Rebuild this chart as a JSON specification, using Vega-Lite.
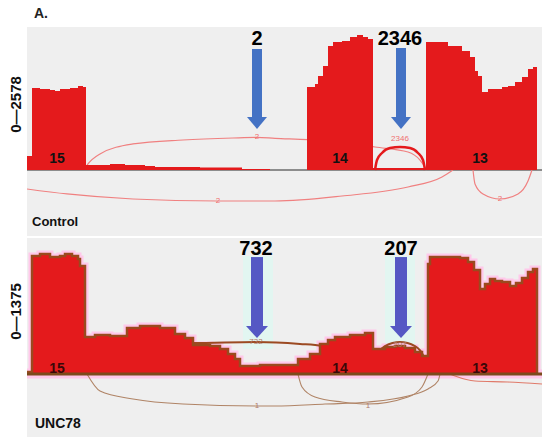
{
  "$schema": "https://vega.github.io/schema/vega-lite/v6.json",
  "autosize": {"type": "pad"},
  "padding": {"left": 8, "top": 7, "right": 0, "bottom": 0},
  "background": "white",
  "title": {"text": "A.", "anchor": "start", "frame": "group", "dx": 7, "offset": 6, "fontSize": 14, "fontWeight": "bold", "font": "Liberation Sans", "color": "#222"},
  "config": {"view": {"fill": "#efefef", "stroke": null}, "concat": {"spacing": 2}},
  "datasets": {
    "covTop": [{"pos":0,"v":267},{"pos":5,"v":1566},{"pos":13,"v":1547},{"pos":23,"v":1528},{"pos":28,"v":1509},{"pos":33,"v":1547},{"pos":43,"v":1566},{"pos":51,"v":1604},{"pos":56,"v":1585},{"pos":59,"v":96},{"pos":83,"v":115},{"pos":98,"v":96},{"pos":118,"v":76},{"pos":128,"v":57},{"pos":173,"v":48},{"pos":215,"v":19},{"pos":243,"v":0},{"pos":280,"v":1585},{"pos":288,"v":1643},{"pos":291,"v":1795},{"pos":296,"v":1986},{"pos":301,"v":2368},{"pos":306,"v":2445},{"pos":315,"v":2464},{"pos":323,"v":2540},{"pos":330,"v":2578},{"pos":336,"v":2540},{"pos":341,"v":2502},{"pos":346,"v":40},{"pos":399,"v":2445},{"pos":421,"v":2368},{"pos":435,"v":2273},{"pos":443,"v":2158},{"pos":448,"v":1891},{"pos":451,"v":1795},{"pos":455,"v":1490},{"pos":461,"v":1547},{"pos":475,"v":1585},{"pos":481,"v":1604},{"pos":488,"v":1681},{"pos":495,"v":1776},{"pos":501,"v":1929},{"pos":506,"v":1967},{"pos":510,"v":0}],
    "covBot": [{"pos":0,"v":23},{"pos":5,"v":1375},{"pos":13,"v":1398},{"pos":23,"v":1363},{"pos":33,"v":1375},{"pos":38,"v":1398},{"pos":45,"v":1375},{"pos":51,"v":1340},{"pos":53,"v":1258},{"pos":58,"v":431},{"pos":68,"v":454},{"pos":83,"v":443},{"pos":100,"v":536},{"pos":113,"v":559},{"pos":133,"v":536},{"pos":148,"v":466},{"pos":158,"v":419},{"pos":166,"v":338},{"pos":183,"v":326},{"pos":193,"v":291},{"pos":201,"v":233},{"pos":208,"v":175},{"pos":213,"v":93},{"pos":233,"v":105},{"pos":263,"v":105},{"pos":271,"v":175},{"pos":283,"v":233},{"pos":293,"v":349},{"pos":301,"v":396},{"pos":308,"v":431},{"pos":323,"v":454},{"pos":338,"v":478},{"pos":346,"v":291},{"pos":358,"v":315},{"pos":368,"v":326},{"pos":378,"v":303},{"pos":388,"v":256},{"pos":395,"v":210},{"pos":401,"v":1282},{"pos":403,"v":1363},{"pos":418,"v":1363},{"pos":433,"v":1351},{"pos":441,"v":1305},{"pos":447,"v":1212},{"pos":453,"v":990},{"pos":458,"v":1049},{"pos":463,"v":1107},{"pos":468,"v":1084},{"pos":475,"v":1072},{"pos":483,"v":1025},{"pos":489,"v":1060},{"pos":495,"v":1118},{"pos":501,"v":1188},{"pos":506,"v":1223},{"pos":510,"v":0}],
    "arcTop": [
      {"arc":"j2","pos":59,"v":60},{"arc":"j2","pos":61,"v":115},{"arc":"j2","pos":73,"v":306},{"arc":"j2","pos":106,"v":497},{"arc":"j2","pos":156,"v":573},{"arc":"j2","pos":206,"v":611},{"arc":"j2","pos":230,"v":622},{"arc":"j2","pos":248,"v":605},{"arc":"j2","pos":281,"v":580},{"arc":"j2","pos":315,"v":535},{"arc":"j2","pos":348,"v":439},{"arc":"j2","pos":381,"v":344},{"arc":"j2","pos":393,"v":190},{"arc":"j2","pos":398,"v":57},{"arc":"j2","pos":400,"v":0},
      {"arc":"j2346","pos":348,"v":0},{"arc":"j2346","pos":350,"v":191},{"arc":"j2346","pos":355,"v":325},{"arc":"j2346","pos":363,"v":420},{"arc":"j2346","pos":373,"v":439},{"arc":"j2346","pos":383,"v":420},{"arc":"j2346","pos":391,"v":325},{"arc":"j2346","pos":396,"v":191},{"arc":"j2346","pos":398,"v":0},
      {"arc":"b1","pos":0,"v":-363},{"arc":"b1","pos":40,"v":-458},{"arc":"b1","pos":106,"v":-554},{"arc":"b1","pos":191,"v":-592},{"arc":"b1","pos":248,"v":-592},{"arc":"b1","pos":315,"v":-497},{"arc":"b1","pos":381,"v":-325},{"arc":"b1","pos":415,"v":-134},{"arc":"b1","pos":426,"v":0},
      {"arc":"b2","pos":446,"v":0},{"arc":"b2","pos":448,"v":-267},{"arc":"b2","pos":456,"v":-458},{"arc":"b2","pos":473,"v":-554},{"arc":"b2","pos":491,"v":-458},{"arc":"b2","pos":501,"v":-210},{"arc":"b2","pos":505,"v":0}
    ],
    "arcBot": [
      {"arc":"j732","pos":58,"v":0},{"arc":"j732","pos":63,"v":200},{"arc":"j732","pos":73,"v":291},{"arc":"j732","pos":123,"v":361},{"arc":"j732","pos":166,"v":361},{"arc":"j732","pos":229,"v":373},{"arc":"j732","pos":273,"v":350},{"arc":"j732","pos":295,"v":326},{"arc":"j732","pos":308,"v":233},{"arc":"j732","pos":313,"v":0},
      {"arc":"j207","pos":346,"v":0},{"arc":"j207","pos":349,"v":198},{"arc":"j207","pos":358,"v":326},{"arc":"j207","pos":373,"v":373},{"arc":"j207","pos":388,"v":326},{"arc":"j207","pos":397,"v":198},{"arc":"j207","pos":401,"v":0},
      {"arc":"b1","pos":60,"v":0},{"arc":"b1","pos":73,"v":-198},{"arc":"b1","pos":106,"v":-291},{"arc":"b1","pos":156,"v":-350},{"arc":"b1","pos":230,"v":-373},{"arc":"b1","pos":248,"v":-373},{"arc":"b1","pos":298,"v":-350},{"arc":"b1","pos":341,"v":-326},{"arc":"b1","pos":381,"v":-256},{"arc":"b1","pos":401,"v":-175},{"arc":"b1","pos":411,"v":-82},{"arc":"b1","pos":413,"v":0},
      {"arc":"b2","pos":271,"v":0},{"arc":"b2","pos":275,"v":-151},{"arc":"b2","pos":288,"v":-268},{"arc":"b2","pos":315,"v":-326},{"arc":"b2","pos":341,"v":-350},{"arc":"b2","pos":381,"v":-268},{"arc":"b2","pos":395,"v":-151},{"arc":"b2","pos":401,"v":0},
      {"arc":"b3","pos":423,"v":0},{"arc":"b3","pos":428,"v":-23},{"arc":"b3","pos":448,"v":-82},{"arc":"b3","pos":481,"v":-93},{"arc":"b3","pos":515,"v":-117}
    ],
    "arcLabTop": [{"pos":230,"v":622,"t":"2"},{"pos":373,"v":592,"t":"2346"},{"pos":191,"v":-592,"t":"2"},{"pos":473,"v":-554,"t":"2"}],
    "arcLabBot": [{"pos":229,"v":373,"t":"732"},{"pos":373,"v":338,"t":"207"},{"pos":230,"v":-373,"t":"1"},{"pos":341,"v":-373,"t":"1"}],
    "exTop": [{"pos":30,"v":210,"t":"15"},{"pos":313,"v":210,"t":"14"},{"pos":453,"v":210,"t":"13"}],
    "exBot": [{"pos":30,"v":58,"t":"15"},{"pos":313,"v":58,"t":"14"},{"pos":453,"v":58,"t":"13"}],
    "nameTop": [{"pos":5,"v":-993,"t":"Control"}],
    "nameBot": [{"pos":8,"v":-583,"t":"UNC78"}],
    "baseTop": [{"pos":0,"pos2":515,"v":0}],
    "baseBot": [{"pos":0,"pos2":515,"v":0}],
    "shaftTop": [{"pos":230,"v":2311,"v2":993},{"pos":374,"v":2330,"v2":993}],
    "headTop": [{"pos":230,"v":898},{"pos":374,"v":898}],
    "numTop": [{"pos":230,"v":2502,"t":"2"},{"pos":373,"v":2502,"t":"2346"}],
    "haloBot": [{"pos":216,"pos2":246,"v":1375,"v2":291},{"pos":358,"pos2":388,"v":1375,"v2":291}],
    "shaftBot": [{"pos":230,"v":1363,"v2":524},{"pos":374,"v":1363,"v2":524}],
    "headBot": [{"pos":230,"v":489},{"pos":374,"v":489}],
    "numBot": [{"pos":229,"v":1456,"t":"732"},{"pos":374,"v":1456,"t":"207"}]
  },
  "vconcat": [
    {
      "width": 515, "height": 209,
      "encoding": {
        "x": {"field": "pos", "type": "quantitative", "scale": {"domain": [0, 515]}, "axis": null},
        "y": {"field": "v", "type": "quantitative", "scale": {"domain": [-1261, 2731]},
              "axis": {"title": "0—2578", "domain": false, "ticks": false, "labels": false, "grid": false, "titleX": -12, "titleY": 77, "titleAngle": -90, "titleAlign": "center", "titleBaseline": "middle", "titleFontSize": 15, "titleFontWeight": "bold", "titleFont": "Liberation Sans", "titleColor": "#111"}}
      },
      "layer": [
        {"data": {"name": "baseTop"}, "mark": {"type": "rule", "color": "#8c8c8c", "strokeWidth": 2}, "encoding": {"x2": {"field": "pos2"}}},
        {"data": {"name": "arcTop"}, "transform": [{"filter": "datum.arc != 'j2346'"}], "mark": {"type": "line", "interpolate": "monotone", "color": "#f08080", "strokeWidth": 1.2, "clip": true}, "encoding": {"detail": {"field": "arc"}}},
        {"data": {"name": "covTop"}, "mark": {"type": "area", "interpolate": "step-after", "color": "#e41a1c", "opacity": 1}, "encoding": {"y2": {"datum": 0}}},
        {"data": {"name": "arcTop"}, "transform": [{"filter": "datum.arc == 'j2346'"}], "mark": {"type": "line", "interpolate": "monotone", "color": "#e41a1c", "strokeWidth": 2.5}},
        {"data": {"name": "arcLabTop"}, "mark": {"type": "text", "fontSize": 8, "color": "#f07070", "font": "Liberation Sans"}, "encoding": {"text": {"field": "t"}}},
        {"data": {"name": "exTop"}, "mark": {"type": "text", "fontSize": 14, "fontWeight": "bold", "color": "#111", "font": "Liberation Sans"}, "encoding": {"text": {"field": "t"}}},
        {"data": {"name": "nameTop"}, "mark": {"type": "text", "align": "left", "fontSize": 13, "fontWeight": "bold", "color": "#111", "font": "Liberation Sans"}, "encoding": {"text": {"field": "t"}}},
        {"data": {"name": "shaftTop"}, "mark": {"type": "rule", "color": "#4472c4", "strokeWidth": 10, "strokeCap": "butt"}, "encoding": {"y2": {"field": "v2"}}},
        {"data": {"name": "headTop"}, "mark": {"type": "point", "shape": "M-1,-0.6L1,-0.6L0,0.6Z", "size": 400, "filled": true, "opacity": 1, "color": "#4472c4", "strokeWidth": 0}},
        {"data": {"name": "numTop"}, "mark": {"type": "text", "fontSize": 20, "fontWeight": "bold", "color": "#000", "font": "Liberation Sans"}, "encoding": {"text": {"field": "t"}}}
      ]
    },
    {
      "width": 515, "height": 199,
      "encoding": {
        "x": {"field": "pos", "type": "quantitative", "scale": {"domain": [0, 515]}, "axis": null},
        "y": {"field": "v", "type": "quantitative", "scale": {"domain": [-734, 1585]},
              "axis": {"title": "0—1375", "domain": false, "ticks": false, "labels": false, "grid": false, "titleX": -12, "titleY": 73, "titleAngle": -90, "titleAlign": "center", "titleBaseline": "middle", "titleFontSize": 15, "titleFontWeight": "bold", "titleFont": "Liberation Sans", "titleColor": "#111"}}
      },
      "layer": [
        {"data": {"name": "haloBot"}, "mark": {"type": "rect", "color": "#e2f6f1"}, "encoding": {"x2": {"field": "pos2"}, "y2": {"field": "v2"}}},
        {"data": {"name": "baseBot"}, "mark": {"type": "rule", "color": "#ffc8ea", "strokeWidth": 9}, "encoding": {"x2": {"field": "pos2"}}},
        {"data": {"name": "covBot"}, "mark": {"type": "line", "interpolate": "step-after", "color": "#ffc8ea", "strokeWidth": 7}},
        {"data": {"name": "arcBot"}, "transform": [{"filter": "datum.arc == 'j732' || datum.arc == 'j207'"}], "mark": {"type": "line", "interpolate": "monotone", "color": "#9c4a22", "strokeWidth": 2}, "encoding": {"detail": {"field": "arc"}}},
        {"data": {"name": "arcBot"}, "transform": [{"filter": "datum.arc == 'b1' || datum.arc == 'b2'"}], "mark": {"type": "line", "interpolate": "monotone", "color": "#b08466", "strokeWidth": 1.1}, "encoding": {"detail": {"field": "arc"}}},
        {"data": {"name": "arcBot"}, "transform": [{"filter": "datum.arc == 'b3'"}], "mark": {"type": "line", "interpolate": "monotone", "color": "#e07a6a", "strokeWidth": 1.1, "clip": true}},
        {"data": {"name": "covBot"}, "mark": {"type": "area", "interpolate": "step-after", "color": "#e41a1c", "opacity": 1}, "encoding": {"y2": {"datum": 0}}},
        {"data": {"name": "covBot"}, "mark": {"type": "line", "interpolate": "step-after", "color": "#9a4a1e", "strokeWidth": 2.5}},
        {"data": {"name": "baseBot"}, "mark": {"type": "rule", "color": "#7c4a1c", "strokeWidth": 3}, "encoding": {"x2": {"field": "pos2"}}},
        {"data": {"name": "arcLabBot"}, "mark": {"type": "text", "fontSize": 8, "color": "#b07a6a", "font": "Liberation Sans"}, "encoding": {"text": {"field": "t"}}},
        {"data": {"name": "exBot"}, "mark": {"type": "text", "fontSize": 14, "fontWeight": "bold", "color": "#3a0808", "font": "Liberation Sans"}, "encoding": {"text": {"field": "t"}}},
        {"data": {"name": "nameBot"}, "mark": {"type": "text", "align": "left", "fontSize": 14, "fontWeight": "bold", "color": "#111", "font": "Liberation Sans"}, "encoding": {"text": {"field": "t"}}},
        {"data": {"name": "shaftBot"}, "mark": {"type": "rule", "color": "#5558c4", "strokeWidth": 12, "strokeCap": "butt"}, "encoding": {"y2": {"field": "v2"}}},
        {"data": {"name": "headBot"}, "mark": {"type": "point", "shape": "M-1,-0.55L1,-0.55L0,0.55Z", "size": 484, "filled": true, "opacity": 1, "color": "#5558c4", "strokeWidth": 0}},
        {"data": {"name": "numBot"}, "mark": {"type": "text", "fontSize": 20, "fontWeight": "bold", "color": "#000", "font": "Liberation Sans"}, "encoding": {"text": {"field": "t"}}}
      ]
    }
  ]
}
